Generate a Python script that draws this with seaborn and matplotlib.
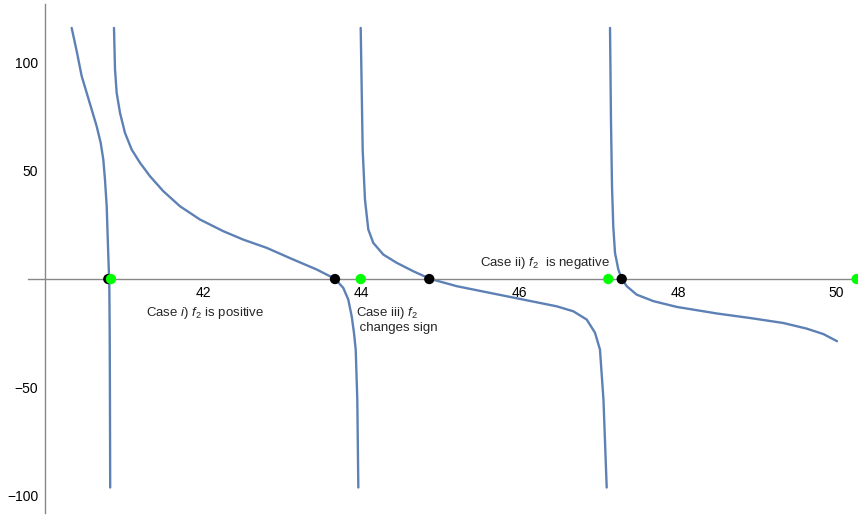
import numpy as np
import matplotlib
matplotlib.use("Agg")
import matplotlib.pyplot as plt
import seaborn as sns

# branches of the curve
b1_x = [40.336, 40.400, 40.463, 40.526, 40.589, 40.652, 40.703, 40.736, 40.757, 40.779,
        40.791, 40.804, 40.812, 40.817, 40.820, 40.823]
b1_y = [116.0, 105.2, 93.7, 86.0, 78.3, 70.6, 62.9, 55.2, 46.0, 33.6,
        19.8, 5.9, -3.3, -24.7, -55.7, -96.3]

b2_x = [40.871, 40.884, 40.905, 40.947, 41.010, 41.095, 41.200, 41.326, 41.494, 41.706,
        41.958, 42.253, 42.506, 42.802, 43.138, 43.434, 43.665, 43.770, 43.833, 43.876,
        43.905, 43.927, 43.947, 43.960]
b2_y = [116.0, 96.8, 86.0, 76.8, 67.5, 59.8, 53.7, 47.5, 40.6, 33.6,
        27.5, 22.1, 18.2, 14.4, 9.0, 4.4, 0.1, -4.1, -9.5, -17.2,
        -24.8, -32.6, -55.7, -96.3]

b3_x = [43.990, 44.015, 44.044, 44.086, 44.149, 44.276, 44.445, 44.655, 44.866, 45.204,
        45.625, 46.046, 46.468, 46.678, 46.847, 46.952, 47.015, 47.059, 47.100]
b3_y = [116.0, 59.8, 36.7, 22.9, 16.7, 11.3, 7.5, 3.6, 0.1, -3.3,
        -6.4, -9.5, -12.6, -14.9, -18.7, -24.8, -32.6, -55.7, -96.3]

b4_x = [47.142, 47.154, 47.167, 47.183, 47.205, 47.247, 47.290, 47.353, 47.479, 47.689,
        47.989, 48.491, 48.912, 49.332, 49.628, 49.838, 50.011]
b4_y = [116.0, 73.7, 42.9, 24.4, 12.1, 4.4, 0.1, -3.3, -7.2, -10.2,
        -12.9, -15.9, -18.0, -20.3, -22.9, -25.4, -28.7]

roots_x = [40.799, 43.665, 44.857, 47.290]
poles_x = [40.833, 43.990, 47.120, 50.260]

labels = [r"Case $i$) $f_2$ is positive",
          r"Case iii) $f_2$" + "\n" + " changes sign",
          r"Case ii) $f_2$  is negative"]
label_x = [41.276, 43.93, 45.50]
label_y = [-15.5, -18.8, 7.4]

sns.set_style("white")
plt.rcParams['font.family'] = ['Liberation Sans', 'DejaVu Sans']
plt.rcParams['mathtext.fontset'] = 'custom'
plt.rcParams['mathtext.rm'] = 'Liberation Sans'
plt.rcParams['mathtext.it'] = 'Liberation Sans:italic'

fig = plt.figure(figsize=(8.58, 5.15), dpi=100)
ax = fig.add_axes([0, 0, 1, 1])

line_col = "#5E81B5"
for bx, by in [(b1_x, b1_y), (b2_x, b2_y), (b3_x, b3_y), (b4_x, b4_y)]:
    sns.lineplot(x=bx, y=by, sort=False, estimator=None, color=line_col, lw=1.7, ax=ax)

sns.scatterplot(x=roots_x, y=[0] * len(roots_x), color="black", s=55,
                edgecolor="none", zorder=5, ax=ax)
sns.scatterplot(x=poles_x, y=[0] * len(poles_x), color="#00FF00", s=55,
                edgecolor="none", zorder=6, ax=ax)

for t, tx, ty in zip(labels, label_x, label_y):
    ax.text(tx, ty, t, fontsize=9.5, ha="left", va="center", linespacing=1.1)

ax.set_xlim(39.43, 50.277)
ax.set_ylim(-109.0, 128.9)

ax.spines['left'].set_position(('data', 40))
ax.spines['bottom'].set_position(('data', 0))
ax.spines['top'].set_visible(False)
ax.spines['right'].set_visible(False)
ax.spines['left'].set_bounds(-108, 127)
ax.spines['bottom'].set_bounds(39.784, 50.214)
for s in ['left', 'bottom']:
    ax.spines[s].set_color("#888888")
    ax.spines[s].set_linewidth(1.0)

ax.set_xticks([42, 44, 46, 48, 50])
ax.set_yticks([-100, -50, 50, 100])
ax.set_xticks([x for x in np.arange(40.5, 50.3, 0.5) if x % 2 != 0], minor=True)
ax.set_yticks([y for y in range(-100, 121, 10) if y % 50 != 0], minor=True)
ax.set_yticklabels(["\u2212100", "\u221250", "50", "100"])

ax.tick_params(axis="both", which="both", direction="in", colors="#888888",
               labelcolor="black", labelsize=10, width=0.8)
ax.tick_params(axis="both", which="major", length=5, pad=5)
ax.tick_params(axis="both", which="minor", length=3)

fig.savefig("out.png", dpi=100)
